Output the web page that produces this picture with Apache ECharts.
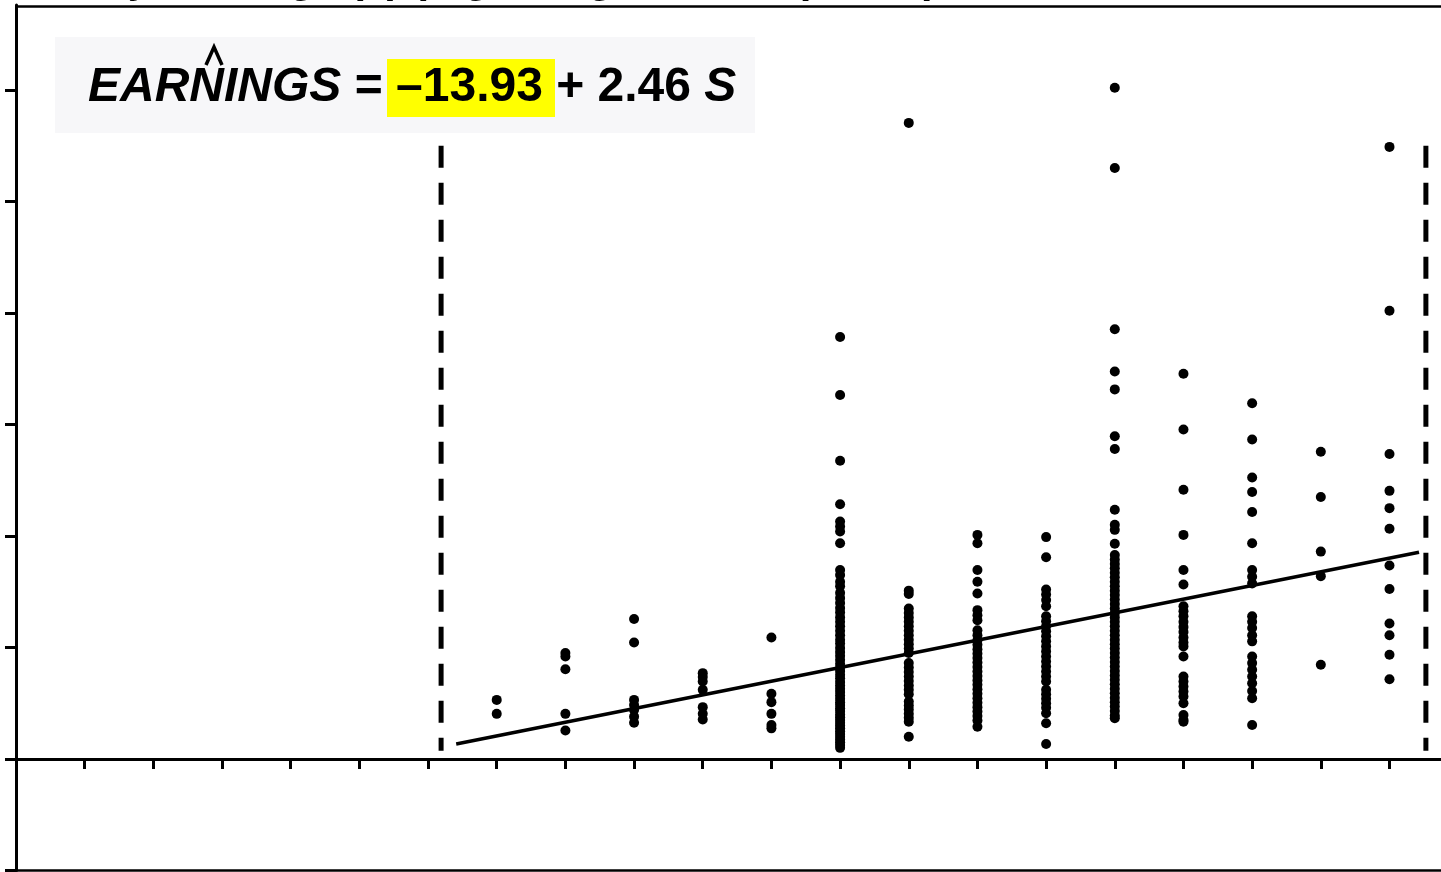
<!DOCTYPE html>
<html>
<head>
<meta charset="utf-8">
<title>EARNINGS vs S</title>
<script src="https://cdn.jsdelivr.net/npm/echarts@6/dist/echarts.min.js"></script>
<style>
    html, body { margin: 0; padding: 0; background: #fff; }
    #chart { width: 1441px; height: 872px; }
</style>
</head>
<body>
<div id="chart"></div>
<script>
// ---------- 刻度 ----------
const xTicks = [0, 1, 2, 3, 4, 5, 6, 7, 8, 9, 10, 11, 12, 13, 14, 15, 16, 17, 18, 19, 20];
const yTicks = [-20, 0, 20, 40, 60, 80, 100, 120];

// ---------- 各受教育年限 (S) 的小时工资 ----------
const schooling = [7, 8, 9, 10, 11, 12, 13, 14, 15, 16, 17, 18, 19, 20];
const earnS7 = [10.6, 8.1];
const earnS8 = [19.0, 18.4, 16.1, 8.1, 5.1];
const earnS9 = [25.1, 20.9, 10.6, 9.7, 8.8, 7.6, 6.5];
const earnS10 = [15.4, 14.7, 13.9, 12.4, 9.3, 8.1, 7.1];
const earnS11 = [21.8, 11.7, 10.2, 8.1, 6.1, 5.5];
const earnS12 = [75.7, 65.3, 53.5, 45.7, 42.6, 41.7, 40.8, 38.7,
    33.9, 33.0, 31.8, 31.0, 29.8, 28.9, 28.0, 27.1, 26.3, 25.4, 24.6, 23.8, 23.0, 22.2, 21.4, 20.7,
    19.9, 19.2, 18.5, 17.8, 17.1, 16.4, 15.8, 15.1, 14.5, 13.8, 13.2, 12.6, 12.0, 11.4, 10.8, 10.2,
    9.7, 9.1, 8.6, 8.0, 7.5, 7.0, 6.5, 6.0, 5.5, 5.0, 4.5, 4.0, 3.5, 3.0, 2.5, 2.0];
const earnS13 = [114.1, 30.2, 29.6,
    27.0, 26.2, 25.4, 24.6, 23.8, 23.0, 22.2, 21.4, 20.6, 19.8, 19.0,
    17.2, 16.4, 15.6, 14.8, 14.0, 13.2, 12.4, 11.6,
    10.3, 9.6, 8.9, 8.1, 7.4, 6.7, 4.0];
const earnS14 = [40.2, 38.7, 33.9, 31.8, 29.7, 26.7, 25.8, 24.9, 23.1, 22.2,
    21.3, 20.5, 19.7, 18.9, 18.1, 17.3, 16.5, 15.7, 14.9, 14.1, 13.3, 12.5, 11.7, 10.9, 10.1,
    9.3, 8.5, 7.7, 6.9, 5.8];
const earnS15 = [39.8, 36.2, 30.4, 29.5, 28.5, 27.4,
    25.6, 24.7, 23.8, 22.9, 22.0, 21.1, 20.2, 19.3, 18.4, 17.5, 16.6, 15.7, 14.8, 13.9,
    12.4, 11.6, 10.8, 10.0, 9.2, 8.2, 6.4, 2.7];
const earnS16 = [120.4, 106.0, 77.1, 69.5, 66.3, 57.9, 55.6, 44.7, 42.0, 41.1, 38.6,
    36.6, 35.8, 35.0, 34.2, 33.4, 32.6, 31.8, 31.0, 30.2, 29.4, 28.6, 27.8, 27.0, 26.2, 25.4,
    24.6, 23.8, 23.0, 22.2, 21.4, 20.6, 19.8, 19.0, 18.2, 17.4, 16.6, 15.8, 15.0, 14.2, 13.4,
    12.6, 11.8, 11.0, 10.2, 9.4, 8.6, 7.8, 7.3];
const earnS17 = [69.1, 59.1, 48.3, 40.2, 33.9, 31.3,
    27.4, 26.5, 25.6, 24.6, 23.7, 22.8, 21.8, 20.9, 20.2, 18.4,
    14.8, 13.9, 13.0, 12.1, 11.2, 10.0, 7.9, 7.0, 6.7];
const earnS18 = [63.8, 57.3, 50.5, 47.9, 44.3, 38.7, 33.9, 32.7, 31.5,
    25.6, 24.6, 23.5, 22.2, 21.1, 18.4, 17.2, 16.0, 14.8, 13.6, 12.2, 10.9, 6.1];
const earnS19 = [55.1, 47.0, 37.2, 32.8, 16.9];
const earnS20 = [109.8, 80.4, 54.7, 48.1, 45.0, 41.3, 34.7, 30.5, 24.3, 22.2, 18.7, 14.3];
const earningsByS = [earnS7, earnS8, earnS9, earnS10, earnS11, earnS12, earnS13,
    earnS14, earnS15, earnS16, earnS17, earnS18, earnS19, earnS20];

// 回归线两端
const fitLine = [[6.41, 2.7], [20.43, 37.1]];
// 两条虚线边界
const leftBound = [[6.19, 110], [6.19, 1.5]];
const rightBound = [[20.53, 110], [20.53, 1.5]];
// 图框上下两条横线
const frameLines = [135.1, -20];

// 组装散点
const points = [];
schooling.forEach((s, i) => {
    earningsByS[i].forEach(v => points.push([s, v]));
});

const FONT = 'Liberation Sans, Arial, sans-serif';
const chart = echarts.init(document.getElementById('chart'));

const axisCommon = {
    type: 'value',
    axisLine: { show: true, onZero: true, lineStyle: { color: '#000', width: 3 } },
    axisLabel: { show: false },
    splitLine: { show: false }
};

const option = {
    animation: false,
    backgroundColor: '#fff',
    grid: { left: 16, right: 0, top: 5, bottom: 1.5, show: false },
    xAxis: Object.assign({}, axisCommon, {
        min: 0, max: 20.75,
        axisTick: { show: true, customValues: xTicks, length: 10, lineStyle: { color: '#000', width: 3 } }
    }),
    yAxis: Object.assign({}, axisCommon, {
        min: -20, max: 135.25,
        axisTick: { show: true, customValues: yTicks, length: 11, lineStyle: { color: '#000', width: 3 } }
    }),
    series: [
        {
            type: 'scatter', data: points, symbol: 'circle', symbolSize: 10,
            itemStyle: { color: '#000', opacity: 1 }, z: 3,
            markLine: {
                silent: true, symbol: 'none', label: { show: false },
                lineStyle: { color: '#000', width: 2.5, type: 'solid' },
                data: frameLines.map(v => ({ yAxis: v }))
            }
        },
        {
            type: 'line', data: fitLine, showSymbol: false, symbol: 'none',
            lineStyle: { color: '#000', width: 3.5 }, z: 4
        },
        {
            type: 'line', data: leftBound, symbol: 'none',
            lineStyle: { color: '#000', width: 5, type: [22, 15], cap: 'butt' }, z: 2
        },
        {
            type: 'line', data: rightBound, symbol: 'none',
            lineStyle: { color: '#000', width: 5, type: [22, 15], cap: 'butt' }, z: 2
        }
    ],
    graphic: [
        // 顶部被裁掉的标题 (只露出下伸部分)
        {
            type: 'text', x: 18, y: -19.5, z: 10,
            style: { text: 'Hourly earnings ($) (highest grade completed)', fontSize: 42, fontWeight: 'bold', fontFamily: FONT, fill: '#000', verticalAlign: 'middle' }
        },
        // 方程框
        { type: 'rect', shape: { x: 55, y: 37, width: 700, height: 96 }, style: { fill: '#f7f7f9' }, z: 10 },
        { type: 'rect', shape: { x: 387, y: 59, width: 168, height: 58 }, style: { fill: '#ffff00' }, z: 11 },
        {
            type: 'text', x: 88, y: 88, z: 12,
            style: {
                text: '{i|EARNINGS}{n| = –13.93 + 2.46 }{i|S}',
                fill: '#000', verticalAlign: 'middle',
                fontSize: 48, fontWeight: 'bold', fontFamily: FONT,
                rich: {
                    i: { fontStyle: 'italic', fontWeight: 'bold', fontSize: 48, fontFamily: FONT, fill: '#000' },
                    n: { fontStyle: 'normal', fontWeight: 'bold', fontSize: 48, fontFamily: FONT, fill: '#000' }
                }
            }
        },
        // N 上的帽子
        {
            type: 'polyline', z: 12,
            shape: { points: [[206, 65], [214, 47], [222, 65]] },
            style: { stroke: '#000', lineWidth: 3.5, fill: null }
        }
    ]
};

chart.setOption(option);
window.addEventListener('resize', () => chart.resize());
</script>
</body>
</html>
